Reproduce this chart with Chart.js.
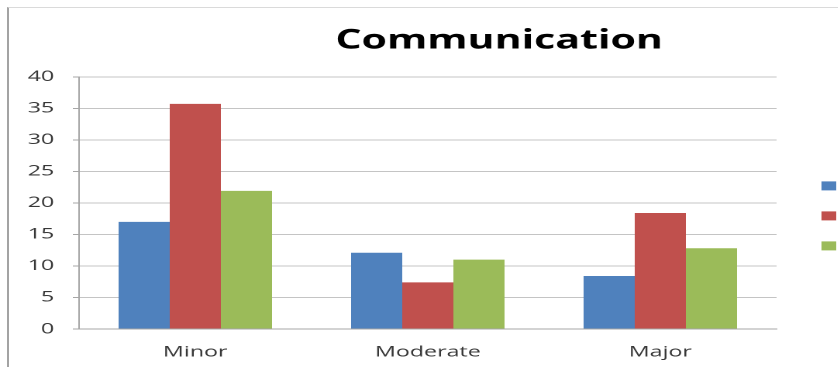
<!DOCTYPE html>
<html>
<head>
<meta charset="utf-8">
<script src="https://cdn.jsdelivr.net/npm/chart.js@4.4.0/dist/chart.umd.min.js"></script>
<style>
  html, body { margin: 0; padding: 0; background: #fff; overflow: hidden; }
  body { width: 838px; height: 367px; position: relative; }
  /* the sheet chart is drawn narrow and stretched sideways */
  #wrap { position: absolute; left: 0; top: 0; width: 644px; height: 367px;
          transform: scaleX(1.55); transform-origin: 0 0; }
  #frame { position: absolute; left: 7px; top: 7px; right: -10px; bottom: -10px;
           border-left: 2px solid #a3a3a3; border-top: 1px solid #dadada; pointer-events: none; }
</style>
</head>
<body>
<div id="wrap"><canvas id="chart" width="644" height="367"></canvas></div>
<div id="frame"></div>
<script>
const categories = ['Minor', 'Moderate', 'Major'];
const seriesNames = ['Series1', 'Series2', 'Series3'];
const series1 = [17, 12.1, 8.4];
const series2 = [35.7, 7.4, 18.4];
const series3 = [21.9, 11, 12.8];
const yMin = 0, yMax = 40, yStep = 5;

const colors = ['#4f81bd', '#c0504d', '#9bbb59'];
const font = 'Open Sans';

// legend swatches sit to the right of the plot, labels run past the edge
const sideLegend = {
  id: 'sideLegend',
  afterDraw(chart) {
    const { ctx, chartArea } = chart;
    const x = chartArea.right + 29;
    const mid = (chartArea.top + chartArea.bottom) / 2 + 13;
    ctx.save();
    chart.data.datasets.forEach((ds, i) => {
      const y = mid + (i - 1) * 30;
      ctx.fillStyle = ds.backgroundColor;
      ctx.fillRect(x, y - 4.5, 9.5, 9);
      ctx.fillStyle = '#404040';
      ctx.font = '14px "' + font + '"';
      ctx.textBaseline = 'middle';
      ctx.fillText(ds.label, x + 14, y);
    });
    ctx.restore();
  }
};

const ctx = document.getElementById('chart').getContext('2d');
// eslint-disable-next-line no-undef
new Chart(ctx, {
  type: 'bar',
  data: {
    labels: categories,
    datasets: [series1, series2, series3].map((data, i) => ({
      label: seriesNames[i],
      data: data,
      backgroundColor: colors[i],
      borderWidth: 0,
      barPercentage: 1,
      categoryPercentage: 0.66
    }))
  },
  options: {
    responsive: false,
    animation: false,
    devicePixelRatio: 2,
    layout: { padding: { left: 0, right: 0, top: 0, bottom: 6 } },
    plugins: {
      legend: { display: false },
      tooltip: { enabled: false },
      title: {
        display: true,
        text: 'Communication',
        color: '#000',
        font: { family: font, size: 26.5, weight: 'bold' },
        padding: { top: 25, bottom: 20 }
      }
    },
    scales: {
      x: {
        afterFit: scale => { scale.height = 32; },
        grid: { display: false, drawTicks: false },
        border: { display: true, color: '#a6a6a6', width: 1 },
        ticks: { color: '#383838', padding: 14, font: { family: font, size: 15 } }
      },
      y: {
        min: yMin,
        max: yMax,
        afterFit: scale => { scale.width = 51; },
        grid: { color: '#c4c4c4', tickColor: '#a6a6a6', tickLength: 4, lineWidth: 1 },
        border: { display: true, color: '#a6a6a6', width: 1 },
        ticks: { stepSize: yStep, color: '#383838', padding: 12, font: { family: font, size: 15 } }
      },
      // empty strip on the right that holds the legend column
      legendSpace: {
        type: 'linear',
        position: 'right',
        afterFit: scale => { scale.width = 143; },
        grid: { display: false, drawOnChartArea: false },
        border: { display: false },
        ticks: { display: false }
      }
    }
  },
  plugins: [sideLegend]
});
</script>
</body>
</html>
